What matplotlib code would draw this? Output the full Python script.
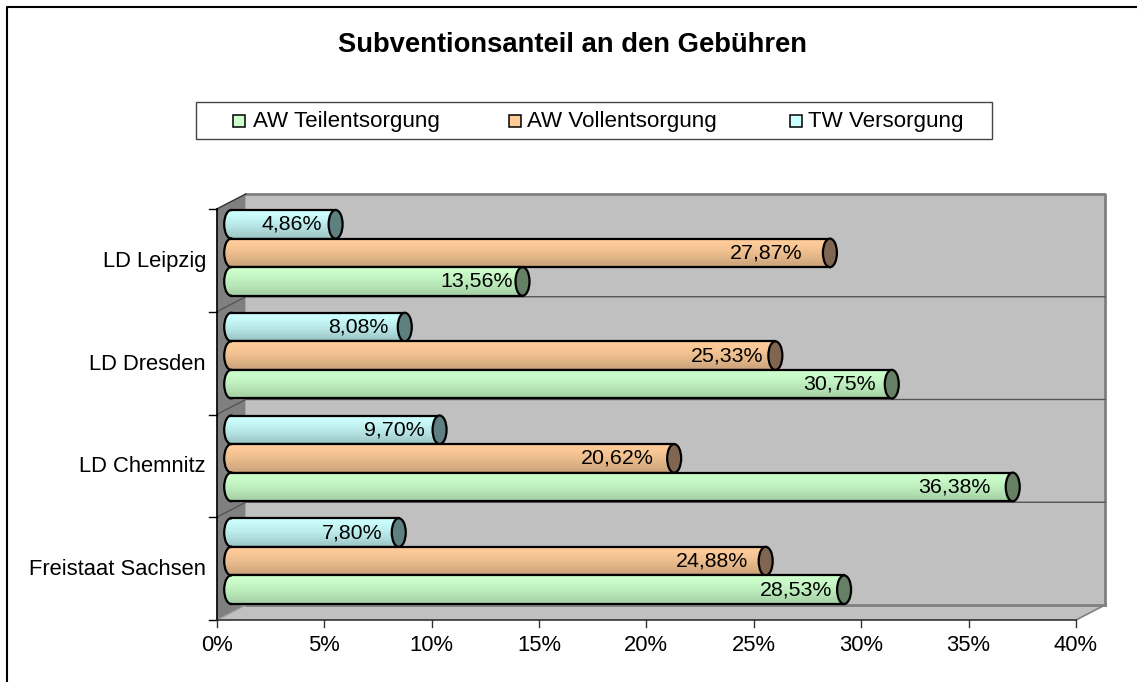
import matplotlib
matplotlib.use("Agg")
import matplotlib.pyplot as plt
from matplotlib.patches import Ellipse, Polygon, Rectangle

plt.rcParams['font.family'] = ['Liberation Sans', 'DejaVu Sans']

categories = ["Freistaat Sachsen", "LD Chemnitz", "LD Dresden", "LD Leipzig"]
teil = [28.53, 36.38, 30.75, 13.56]
voll = [24.88, 20.62, 25.33, 27.87]
tw = [7.80, 9.70, 8.08, 4.86]
series_names = ["AW Teilentsorgung", "AW Vollentsorgung", "TW Versorgung"]
xticks = [0, 5, 10, 15, 20, 25, 30, 35, 40]

# gap in pixels between label and cap, it differs from bar to bar in the original
gap_teil = [12, 22, 16, 10]
gap_voll = [18, 20, 12, 27]
gap_tw = [16, 15, 16, 14]

W, H = 1137, 682
L, R, T, B = 216.7, 1076.0, 209.0, 620.0   # front plot box in pixels
PX = 40 / (R - L)
DX = 29 * PX    # depth of the 3d box in data units
DY = 15 * 4 / (B - T)
tops = ["#CCFFCC", "#FFCC99", "#CCFFFF"]
bots = ["#A4CFA4", "#C9A27A", "#9CC4C4"]
caps = ["#668066", "#806650", "#5F8080"]
series = [teil, voll, tw]
gaps = [gap_teil, gap_voll, gap_tw]

fig = plt.figure(figsize=(W / 100, H / 100), dpi=100)
ax = fig.add_axes([L / W, 1 - B / H, (R - L) / W, (B - T) / H])
ax.set_xlim(0, 40)
ax.set_ylim(0, 4)
ax.axis("off")


def mix(c1, c2, f):
    a = matplotlib.colors.to_rgb(c1)
    b = matplotlib.colors.to_rgb(c2)
    return tuple(a[i] + (b[i] - a[i]) * f for i in range(3))


# figure frame, only top and left show up in the original
fig.add_artist(plt.Line2D([7 / W, 7 / W, 1], [0, 1 - 6.5 / H, 1 - 6.5 / H], transform=fig.transFigure, color="black", lw=1.5))

# walls
ax.add_patch(Polygon([(DX, DY), (40 + DX, DY), (40 + DX, 4 + DY), (DX, 4 + DY)], fc="#C0C0C0", ec="none", clip_on=False, zorder=1))
ax.add_patch(Polygon([(0, 0), (DX, DY), (DX, 4 + DY), (0, 4)], fc="#808080", ec="none", clip_on=False, zorder=1))
ax.add_patch(Polygon([(0, 0), (40, 0), (40 + DX, DY), (DX, DY)], fc="#C0C0C0", ec="none", clip_on=False, zorder=1))
ax.plot([DX, 40 + DX, 40 + DX], [4 + DY, 4 + DY, DY], color="#808080", lw=2, clip_on=False, zorder=2)
ax.plot([DX, 40 + DX], [DY, DY], color="#808080", lw=2, clip_on=False, zorder=2)
ax.plot([40, 40 + DX], [0, DY], color="#808080", lw=1.2, clip_on=False, zorder=2)
ax.plot([0, DX], [0, DY], color="#999999", lw=1, clip_on=False, zorder=2)
for k in range(1, 4):
    ax.plot([0, DX, 40 + DX], [k, k + DY, k + DY], color="#555555", lw=1, clip_on=False, zorder=2)
ax.plot([0, DX], [4, 4 + DY], color="#333333", lw=1, clip_on=False, zorder=2)

# axis lines and ticks
ax.plot([0, 0], [0, 4], color="black", lw=1.2, clip_on=False, zorder=3)
ax.plot([0, 40], [0, 0], color="#333333", lw=1.2, clip_on=False, zorder=3)
for k in range(5):
    ax.plot([-0.37, 0], [k, k], color="black", lw=1, clip_on=False, zorder=3)
for v in xticks:
    ax.plot([v, v], [0, -0.07], color="#333333", lw=1, clip_on=False, zorder=3)
    ax.text(v, -0.25, "%d%%" % v, ha="center", va="center", fontsize=15.8)
for k, name in enumerate(categories):
    ax.text(-0.5, k + 0.49, name, ha="right", va="center", fontsize=15.8)

# bars, from the back series to the front so the caps overlap correctly
bar_h = 0.278
y0 = 0.156
off = 14.5 * PX
cap_w = 14 * PX
nslice = 14
for s in [2, 1, 0]:
    vals = series[s]
    for k, v in enumerate(vals):
        yb = k + y0 + s * bar_h
        z = 5 + (3 - k) + (2 - s) * 0.1
        end = v + off
        for i in range(nslice):
            t = (i + 0.5) / nslice * 2 - 1
            inset = cap_w / 2 * (1 - t * t) ** 0.5
            ax.barh(yb + bar_h * (1 - (i + 0.5) / nslice), v + inset, bar_h / nslice, left=off - inset,
                    color=mix(tops[s], bots[s], (i / (nslice - 1)) ** 1.4), lw=0, clip_on=False, zorder=z + 0.01)
        # left end outline goes over the fill, half of it is hidden by the white-free body
        ax.add_patch(Ellipse((off, yb + bar_h / 2), cap_w, bar_h, fc="none", ec="black", lw=1.6, clip_on=False, zorder=z + 0.015))
        for i in range(nslice):
            ax.barh(yb + bar_h * (1 - (i + 0.5) / nslice), v, bar_h / nslice, left=off + 0.02,
                    color=mix(tops[s], bots[s], (i / (nslice - 1)) ** 1.4), lw=0, clip_on=False, zorder=z + 0.016)
        ax.plot([off, end], [yb, yb], color="black", lw=1.6, clip_on=False, zorder=z + 0.02)
        ax.plot([off, end], [yb + bar_h, yb + bar_h], color="black", lw=1.6, clip_on=False, zorder=z + 0.02)
        ax.add_patch(Ellipse((end, yb + bar_h / 2), cap_w, bar_h, fc=caps[s], ec="black", lw=1.6, clip_on=False, zorder=z + 0.03))
        ax.text(end - gaps[s][k] * PX, yb + bar_h / 2, ("%.2f%%" % v).replace(".", ","), ha="right", va="center",
                fontsize=15.4, color="black", zorder=z + 0.04)

# title
fig.text(572.5 / W, 1 - 45 / H, "Subventionsanteil an den Gebühren", ha="center", va="center",
         fontsize=19.7, fontweight="bold")

# legend
fig.add_artist(Rectangle((196 / W, 1 - 139 / H), 796 / W, 37 / H, transform=fig.transFigure, fc="white", ec="#444444", lw=1))
legend_x = [233, 509, 790]
legend_t = [253, 527, 808]
for x, tx, name, c in zip(legend_x, legend_t, series_names, tops):
    fig.add_artist(Rectangle((x / W, 1 - 127 / H), 12 / W, 12 / H, transform=fig.transFigure, fc=c, ec="black", lw=1.1))
    fig.text(tx / W, 1 - 122 / H, name, ha="left", va="center", fontsize=16.1)

fig.savefig("out.png", dpi=100, facecolor="white")
